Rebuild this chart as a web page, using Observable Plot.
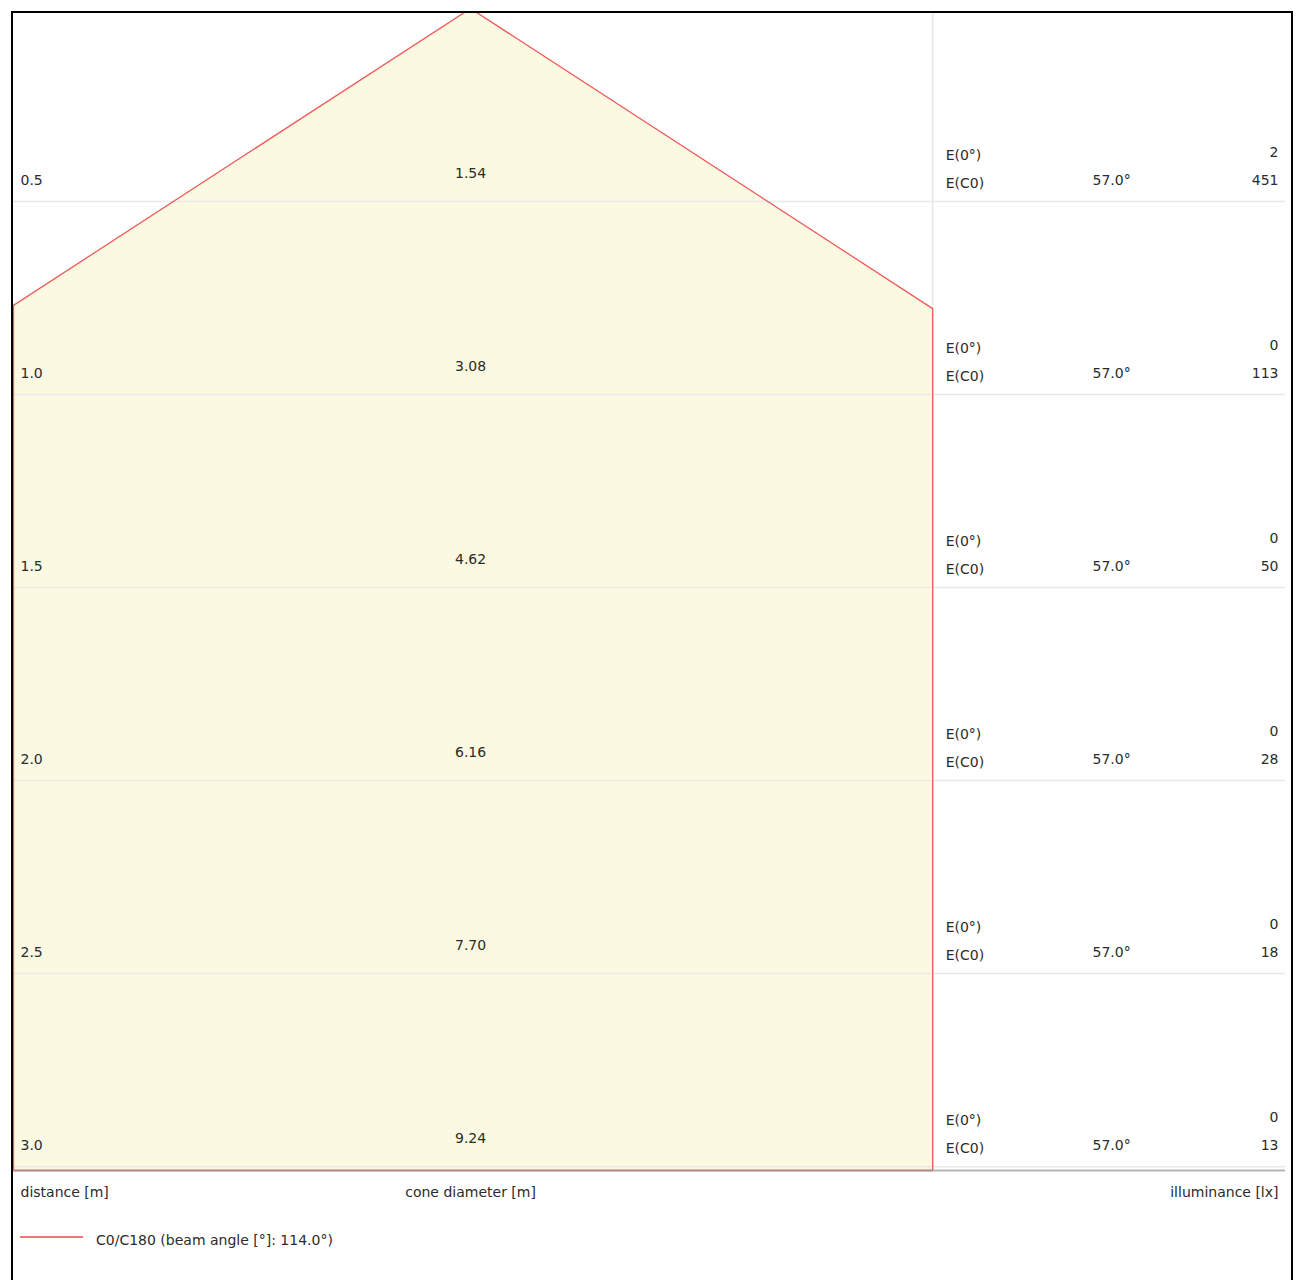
<!DOCTYPE html>
<html>
<head>
<meta charset="utf-8">
<script src="https://cdn.jsdelivr.net/npm/d3@7"></script>
<script src="https://cdn.jsdelivr.net/npm/@observablehq/plot@0.6"></script>
<style>
  html, body { margin: 0; padding: 0; background: #fff; }
  #frame { position: absolute; left: 11px; top: 11px; width: 1282px; height: 1300px;
           border: 2px solid #000; border-bottom: none; box-sizing: border-box; overflow: hidden; }
  #inner { position: absolute; left: -13px; top: -13px; width: 1303px; height: 1313px;
           font-family: "DejaVu Sans", sans-serif; font-size: 14px; color: #2b2b2b; }
  #inner svg { position: absolute; left: 0; top: 0; }
  #swatch { position: absolute; left: 20px; top: 1236px; width: 63px; height: 2px; background: #f27676; }
  #legtext { position: absolute; left: 96px; top: 1232px; line-height: 16px; white-space: nowrap; }
</style>
</head>
<body>
<div id="frame"><div id="inner"></div></div>
<script>
// ---- data ----
const distances = [0.5, 1.0, 1.5, 2.0, 2.5, 3.0];          // distance [m]
const diameters = ["1.54", "3.08", "4.62", "6.16", "7.70", "9.24"]; // cone diameter [m]
const e0 = [2, 0, 0, 0, 0, 0];                             // E(0°) [lx]
const eC0 = [451, 113, 50, 28, 18, 13];                    // E(C0) [lx]
const beamAngle = 114.0;                                   // C0/C180 beam angle [°]
const halfAngleLabel = (beamAngle / 2).toFixed(1) + "°";

// ---- view extents (meters) ----
const xMin = -1.184, xMax = 2.111;   // cone area + table area
const coneRight = 1.197;             // right edge of the cone area
const yMax = 3.01;

const t = Math.tan((beamAngle / 2) * Math.PI / 180);
const cone = [
  {x: 0, y: 0},
  {x: xMin, y: -xMin / t},
  {x: xMin, y: yMax},
  {x: coneRight, y: yMax},
  {x: coneRight, y: coneRight / t},
  {x: 0, y: 0}
];

const rows = distances.map((d, i) => ({d, dia: diameters[i], e0: e0[i], ec0: eC0[i]}));
const ink = "#2b2b2b";
const fs = 14;

const chart = Plot.plot({
  width: 1303,
  height: 1210,
  marginLeft: 13,
  marginRight: 18,
  marginTop: 8,
  marginBottom: 40,
  style: {fontFamily: "DejaVu Sans, sans-serif", fontSize: "14px", color: ink, background: "transparent", overflow: "visible"},
  x: {domain: [xMin, xMax], axis: null},
  y: {domain: [0, yMax], reverse: true, axis: null},
  marks: [
    // cone fill
    Plot.line(cone, {x: "x", y: "y", fill: "#fbf9e1", stroke: "none"}),
    // horizontal grid lines
    Plot.ruleY(distances, {stroke: "#e9e9e9", strokeWidth: 1.5}),
    // vertical separator between cone area and table
    Plot.ruleX([coneRight], {y1: 0, y2: yMax, stroke: "#e6e6e6", strokeWidth: 1.5}),
    // cone outline
    Plot.line(cone, {x: "x", y: "y", stroke: "#f05a5a", strokeWidth: 1.3, fill: "none"}),
    // bottom axis line
    Plot.ruleY([yMax], {stroke: "#999", strokeOpacity: 0.72, strokeWidth: 2}),
    // distance labels
    Plot.text(rows, {y: "d", text: d => d.d.toFixed(1), frameAnchor: "left", textAnchor: "start", lineAnchor: "bottom", dx: 7, dy: -17, fontSize: fs, fill: ink}),
    // cone diameter labels
    Plot.text(rows, {x: () => 0, y: "d", text: "dia", textAnchor: "middle", lineAnchor: "bottom", dy: -24, fontSize: fs, fill: ink}),
    // table labels
    Plot.text(rows, {x: () => coneRight, y: "d", text: () => "E(0°)", textAnchor: "start", lineAnchor: "bottom", dx: 13, dy: -42, fontSize: fs, fill: ink}),
    Plot.text(rows, {x: () => coneRight, y: "d", text: () => "E(C0)", textAnchor: "start", lineAnchor: "bottom", dx: 13, dy: -14, fontSize: fs, fill: ink}),
    Plot.text(rows, {y: "d", text: () => halfAngleLabel, frameAnchor: "right", textAnchor: "start", lineAnchor: "bottom", dx: -193, dy: -17, fontSize: fs, fill: ink}),
    Plot.text(rows, {y: "d", text: d => String(d.e0), frameAnchor: "right", textAnchor: "end", lineAnchor: "bottom", dx: -7, dy: -45, fontSize: fs, fill: ink}),
    Plot.text(rows, {y: "d", text: d => String(d.ec0), frameAnchor: "right", textAnchor: "end", lineAnchor: "bottom", dx: -7, dy: -17, fontSize: fs, fill: ink}),
    // axis titles
    Plot.text(["distance [m]"], {frameAnchor: "bottom-left", textAnchor: "start", lineAnchor: "bottom", dx: 7, dy: 26, fontSize: fs, fill: ink}),
    Plot.text(["cone diameter [m]"], {x: () => 0, frameAnchor: "bottom", textAnchor: "middle", lineAnchor: "bottom", dy: 26, fontSize: fs, fill: ink}),
    Plot.text(["illuminance [lx]"], {frameAnchor: "bottom-right", textAnchor: "end", lineAnchor: "bottom", dx: -7, dy: 26, fontSize: fs, fill: ink})
  ]
});

const inner = document.getElementById("inner");
inner.appendChild(chart);
const sw = document.createElement("div"); sw.id = "swatch"; inner.appendChild(sw);
const lt = document.createElement("div"); lt.id = "legtext";
lt.textContent = `C0/C180 (beam angle [°]: ${beamAngle.toFixed(1)}°)`;
inner.appendChild(lt);
</script>
</body>
</html>
